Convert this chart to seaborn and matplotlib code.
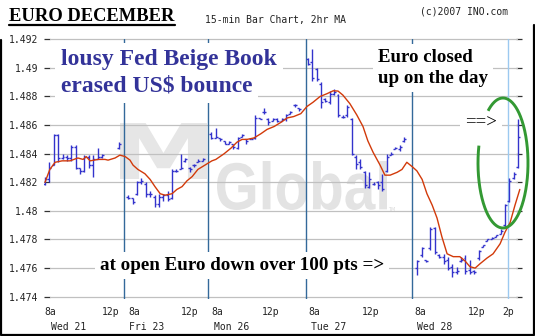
import matplotlib
matplotlib.use("Agg")
import matplotlib.pyplot as plt
import numpy as np
import pandas as pd
import seaborn as sns
from matplotlib.lines import Line2D
from matplotlib.patches import PathPatch
from matplotlib.textpath import TextPath
from matplotlib.font_manager import FontProperties
from matplotlib.transforms import Affine2D, IdentityTransform

# ---------------- data ----------------
# bar slot index (15-min bars, sessions separated by blue lines)
bar_slot = ([0, 1, 2, 3, 4, 5, 6, 7, 8, 9, 10, 11, 12, 13, 17] +      # Wed 21
            list(range(19, 37)) +                                      # Fri 23
            list(range(38, 59)) +                                      # Mon 26
            list(range(60, 83)) +                                      # Tue 27
            list(range(85, 109)))                                      # Wed 28

bar_high = [1.4824, 1.4834, 1.4854, 1.4854, 1.4840, 1.4839, 1.4846, 1.4846, 1.4830, 1.4839, 1.4839, 1.4839, 1.4844, 1.4840, 1.4848,
            1.4811, 1.4809, 1.4821, 1.4823, 1.4820, 1.4814, 1.4811, 1.4812, 1.4812, 1.4814, 1.4829, 1.4829, 1.4840, 1.4837, 1.4831, 1.4833, 1.4836, 1.4837,
            1.4855, 1.4858, 1.4851, 1.4849, 1.4849, 1.4847, 1.4852, 1.4854, 1.4850, 1.4851, 1.4867, 1.4865, 1.4872, 1.4865, 1.4865, 1.4865, 1.4865, 1.4868, 1.4870, 1.4875, 1.4872,
            1.4907, 1.4913, 1.4900, 1.4890, 1.4879, 1.4884, 1.4885, 1.4882, 1.4867, 1.4874, 1.4865, 1.4839, 1.4836, 1.4828, 1.4827, 1.4820, 1.4821, 1.4826, 1.4840, 1.4841, 1.4845, 1.4846, 1.4852,
            1.4766, 1.4775, 1.4766, 1.4789, 1.4789, 1.4770, 1.4770, 1.4768, 1.4763, 1.4761, 1.4768, 1.4769, 1.4766, 1.4759, 1.4773, 1.4776, 1.4780, 1.4782, 1.4783, 1.4787, 1.4805, 1.4823, 1.4827, 1.4864]

bar_low = [1.4818, 1.4820, 1.4832, 1.4834, 1.4836, 1.4835, 1.4835, 1.4829, 1.4826, 1.4827, 1.4830, 1.4824, 1.4836, 1.4837, 1.4843,
           1.4808, 1.4805, 1.4811, 1.4819, 1.4810, 1.4810, 1.4803, 1.4803, 1.4807, 1.4807, 1.4808, 1.4827, 1.4829, 1.4834, 1.4827, 1.4831, 1.4834, 1.4835,
           1.4850, 1.4851, 1.4849, 1.4847, 1.4847, 1.4843, 1.4843, 1.4852, 1.4847, 1.4850, 1.4850, 1.4864, 1.4868, 1.4860, 1.4863, 1.4862, 1.4863, 1.4863, 1.4868, 1.4873, 1.4870,
           1.4902, 1.4891, 1.4891, 1.4872, 1.4876, 1.4875, 1.4881, 1.4866, 1.4865, 1.4866, 1.4839, 1.4829, 1.4829, 1.4816, 1.4816, 1.4818, 1.4815, 1.4814, 1.4827, 1.4839, 1.4843, 1.4842, 1.4848,
           1.4755, 1.4768, 1.4764, 1.4773, 1.4770, 1.4767, 1.4763, 1.4759, 1.4754, 1.4756, 1.4764, 1.4756, 1.4756, 1.4756, 1.4766, 1.4775, 1.4779, 1.4780, 1.4782, 1.4784, 1.4789, 1.4806, 1.4822, 1.4830]

bar_open = [1.4819, 1.4822, 1.4832, 1.4853, 1.4837, 1.4838, 1.4837, 1.4845, 1.4830, 1.4828, 1.4838, 1.4832, 1.4836, 1.4838, 1.4844,
            1.4810, 1.4809, 1.4812, 1.4820, 1.4819, 1.4812, 1.4810, 1.4805, 1.4810, 1.4811, 1.4809, 1.4828, 1.4829, 1.4835, 1.4830, 1.4832, 1.4834, 1.4835,
            1.4854, 1.4851, 1.4851, 1.4849, 1.4847, 1.4847, 1.4844, 1.4852, 1.4850, 1.4850, 1.4851, 1.4865, 1.4869, 1.4864, 1.4863, 1.4864, 1.4863, 1.4864, 1.4868, 1.4874, 1.4872,
            1.4906, 1.4904, 1.4899, 1.4889, 1.4878, 1.4876, 1.4882, 1.4881, 1.4866, 1.4867, 1.4864, 1.4838, 1.4834, 1.4827, 1.4817, 1.4819, 1.4820, 1.4820, 1.4828, 1.4839, 1.4843, 1.4843, 1.4849,
            1.4760, 1.4769, 1.4766, 1.4774, 1.4788, 1.4769, 1.4768, 1.4766, 1.4761, 1.4757, 1.4765, 1.4767, 1.4759, 1.4758, 1.4767, 1.4775, 1.4779, 1.4780, 1.4782, 1.4784, 1.4790, 1.4807, 1.4823, 1.4831]

bar_close = [1.4822, 1.4830, 1.4853, 1.4837, 1.4838, 1.4837, 1.4845, 1.4830, 1.4828, 1.4838, 1.4832, 1.4836, 1.4838, 1.4839, 1.4847,
             1.4809, 1.4806, 1.4820, 1.4821, 1.4812, 1.4812, 1.4805, 1.4810, 1.4811, 1.4808, 1.4828, 1.4828, 1.4830, 1.4836, 1.4829, 1.4832, 1.4835, 1.4836,
             1.4851, 1.4852, 1.4850, 1.4847, 1.4848, 1.4845, 1.4851, 1.4853, 1.4849, 1.4850, 1.4865, 1.4864, 1.4869, 1.4862, 1.4864, 1.4863, 1.4864, 1.4867, 1.4869, 1.4874, 1.4871,
             1.4903, 1.4893, 1.4892, 1.4876, 1.4877, 1.4882, 1.4883, 1.4867, 1.4866, 1.4873, 1.4840, 1.4833, 1.4831, 1.4818, 1.4822, 1.4819, 1.4818, 1.4815, 1.4838, 1.4840, 1.4844, 1.4845, 1.4850,
             1.4765, 1.4774, 1.4765, 1.4787, 1.4771, 1.4768, 1.4765, 1.4760, 1.4757, 1.4758, 1.4766, 1.4758, 1.4757, 1.4757, 1.4772, 1.4776, 1.4780, 1.4781, 1.4783, 1.4786, 1.4804, 1.4821, 1.4826, 1.4852]

# 2hr moving average
ma_x = [0, 1.1, 2.3, 3.9, 5.7, 7.5, 8.7, 9.4, 10.3, 12.1, 13.7, 14.4, 16.0, 17.1, 18.3, 19.4, 20.1, 21.2, 22.8, 24.0,
        25.1, 26.3, 27.4, 29.0, 30.1, 31.3, 32.4, 33.6, 34.9, 36.5, 38.1, 39.0, 40.9, 42.5, 43.8, 45.0, 46.1, 47.7, 49.3, 50.7,
        52.3, 53.9, 55.3, 56.8, 58.4, 59.8, 61.2, 62.8, 64.4, 65.8, 66.9, 68.0, 69.6, 71.2, 72.6, 73.7, 74.9, 76.5, 77.6, 78.8,
        80.4, 81.5, 82.6, 83.8, 84.9, 86.1, 87.2, 88.4, 89.5, 90.6, 91.8, 93.2, 94.7, 95.9, 97.0, 98.2, 99.3, 100.9, 102.3, 103.9,
        105.0, 106.2, 107.3, 108.4]
ma_val = [1.4820, 1.4829, 1.4834, 1.4835, 1.4835, 1.4837, 1.4836, 1.4838, 1.4835, 1.4836, 1.4836, 1.48355, 1.4837, 1.4839, 1.4838, 1.48355, 1.4832, 1.4829, 1.4826, 1.4822,
          1.4817, 1.4812, 1.4811, 1.4812, 1.4815, 1.4817, 1.4821, 1.4824, 1.4829, 1.4832, 1.4835, 1.4836, 1.4840, 1.4844, 1.4848, 1.4850, 1.4850, 1.4851, 1.4854, 1.4857,
          1.4859, 1.4862, 1.4865, 1.4866, 1.4868, 1.4873, 1.4876, 1.4880, 1.4882, 1.4884, 1.48838, 1.4881, 1.4875, 1.4867, 1.4859, 1.4849, 1.4841, 1.4832, 1.4825, 1.4825,
          1.4827, 1.4829, 1.4834, 1.4831, 1.4828, 1.4822, 1.4812, 1.4804, 1.4795, 1.4782, 1.4770, 1.4768, 1.4768, 1.4765, 1.4761, 1.4760, 1.4763, 1.4767, 1.4770, 1.4777,
          1.4785, 1.4792, 1.4804, 1.4815]

session_breaks = [18.0, 37.2, 59.5, 83.7]
last_marker = 105.7

hour_tick_pos = [1.3, 14.9, 20.3, 33.1, 39.4, 51.6, 61.4, 74.4, 85.6, 98.6, 105.7]
hour_tick_labels = ["8a", "12p", "8a", "12p", "8a", "12p", "8a", "12p", "8a", "12p", "2p"]
day_label_pos = [5.4, 23.3, 42.6, 64.8, 88.9]
day_labels = ["Wed 21", "Fri 23", "Mon 26", "Tue 27", "Wed 28"]

y_ticks = [1.474, 1.476, 1.478, 1.480, 1.482, 1.484, 1.486, 1.488, 1.490, 1.492]
y_tick_labels = ["1.474", "1.476", "1.478", "1.48", "1.482", "1.484", "1.486", "1.488", "1.49", "1.492"]

title_text = "EURO DECEMBER"
subtitle_text = "15-min Bar Chart, 2hr MA"
copyright_text = "(c)2007 INO.com"

# ---------------- figure ----------------
W, H = 535, 336
sns.set_theme(style="white")
plt.rcParams["font.family"] = ["DejaVu Sans"]

fig = plt.figure(figsize=(W / 100, H / 100), dpi=100)
fig.patch.set_facecolor("white")


def P(x, y):
    return (x / W, 1 - y / H)


ax_l, ax_r, ax_t, ax_b = 44, 522, 39.3, 299
ax = fig.add_axes([ax_l / W, 1 - ax_b / H, (ax_r - ax_l) / W, (ax_b - ax_t) / H])
ax.set_facecolor("white")
ax.set_xlim(-0.23, 108.9)
ax.set_ylim(1.473839, 1.492)
for s in ax.spines.values():
    s.set_visible(False)


# watermark logo, text paths fitted into a pixel box
def logo_word(word, family, x0, x1, ytop, ybot, color):
    tp = TextPath((0, 0), word, size=10, prop=FontProperties(family=family, weight="bold"))
    bb = tp.get_extents()
    tr = (Affine2D().translate(-bb.x0, -bb.y0)
          .scale((x1 - x0) / bb.width, (ybot - ytop) / bb.height)
          .translate(x0, H - ybot))
    patch = PathPatch(tr.transform_path(tp), fc=color, ec="none",
                      transform=IdentityTransform(), zorder=0.2, clip_on=False)
    ax.add_artist(patch)


logo_word("M", "DejaVu Sans", 120, 207, 123, 179, "#e6e6e6")
logo_word("Global", "Liberation Sans", 217, 387, 161, 210, "#e3e3e3")
ax.text(*P(388, 211), "TM", transform=fig.transFigure, fontsize=3.5,
        color="#d8d8d8", ha="left", va="baseline", zorder=0.2)

# gridlines
gx0 = (50 - ax_l) / (ax_r - ax_l)
gx1 = (517 - ax_l) / (ax_r - ax_l)
for yv in y_ticks:
    ax.axhline(yv, xmin=gx0, xmax=gx1, color="#c0c0c0", lw=0.9, zorder=1, clip_on=False)

# session separators
for xb in session_breaks:
    ax.axvline(xb, color="#33699a", lw=1.0, zorder=1.5)
ax.axvline(last_marker, color="#9cc9f0", lw=1.0, zorder=1.5)

# bars
df = pd.DataFrame({"slot": bar_slot, "open": bar_open, "high": bar_high,
                   "low": bar_low, "close": bar_close})
bar_col = "#3333cc"
ax.vlines(df["slot"], df["low"], df["high"], color=bar_col, lw=1.0, zorder=3)
ax.hlines(df["close"], df["slot"], df["slot"] + 0.45, color=bar_col, lw=1.0, zorder=3)
ax.hlines(df["open"], df["slot"] - 0.45, df["slot"], color=bar_col, lw=1.0, zorder=3)

# moving average
ma_df = pd.DataFrame({"x": ma_x, "ma": ma_val})
sns.lineplot(data=ma_df, x="x", y="ma", ax=ax, color="#d23a0a", lw=1.0,
             estimator=None, sort=False, zorder=3.2)
ax.set_xlabel("")
ax.set_ylabel("")

# ticks
ax.set_yticks(y_ticks)
ax.set_yticklabels(y_tick_labels)
ax.set_xticks(hour_tick_pos)
ax.set_xticklabels(hour_tick_labels)
ax.set_xticks(day_label_pos, minor=True)
ax.set_xticklabels(day_labels, minor=True)
ax.tick_params(axis="y", which="major", left=True, right=True, labelright=False,
               direction="in", length=4.3, width=0.9, color="#333333",
               labelsize=7, labelcolor="#222222", pad=4.3)
ax.tick_params(axis="x", which="major", bottom=True, length=0, labelsize=7,
               labelcolor="#222222", pad=6.0)
ax.tick_params(axis="x", which="minor", bottom=True, length=0, labelsize=7,
               labelcolor="#222222", pad=16.5)
for lab in ax.get_xticklabels(which="both") + ax.get_yticklabels():
    lab.set_family("DejaVu Sans Mono")

# annotation boxes / texts
box = dict(boxstyle="square,pad=0.25", fc="white", ec="none")
serif = "Liberation Serif"
ax.text(*P(61, 65), "lousy Fed Beige Book", transform=fig.transFigure, fontsize=17,
        fontweight="bold", family=serif, color="#333399", ha="left", va="baseline",
        bbox=box, zorder=2.5)
ax.text(*P(61, 91.7), "erased US$ bounce", transform=fig.transFigure, fontsize=17,
        fontweight="bold", family=serif, color="#333399", ha="left", va="baseline",
        bbox=box, zorder=2.5)
ax.text(*P(378, 61.7), "Euro closed", transform=fig.transFigure, fontsize=13.6,
        fontweight="bold", family=serif, color="black", ha="left", va="baseline",
        bbox=box, zorder=2.5)
ax.text(*P(378, 83.3), "up on the day", transform=fig.transFigure, fontsize=13.6,
        fontweight="bold", family=serif, color="black", ha="left", va="baseline",
        bbox=box, zorder=2.5)
ax.text(*P(100, 270), "at open Euro down over 100 pts =>", transform=fig.transFigure,
        fontsize=13.7, fontweight="bold", family=serif, color="black", ha="left",
        va="baseline", bbox=box, zorder=2.5)
ax.text(*P(465, 128), "==>", transform=fig.transFigure, fontsize=13.5,
        family=serif, color="black", ha="left", va="baseline", bbox=box, zorder=2.5)

# green ellipse (open at the upper left)
t = np.deg2rad(np.linspace(164.5, 486.6, 300))
ex = 503 + 25 * np.cos(t)
ey = 163 - 65 * np.sin(t)
fig.add_artist(Line2D(ex / W, 1 - ey / H, transform=fig.transFigure, color="#339933",
                      lw=2.1, solid_capstyle="butt"))

# header
fig.text(*P(9, 20.7), title_text, fontsize=13.3, fontweight="bold", family=serif,
         color="black", ha="left", va="baseline")
fig.add_artist(Line2D([9 / W, 175 / W], [1 - 25 / H, 1 - 25 / H], transform=fig.transFigure,
                      color="black", lw=1.6))
fig.text(*P(205, 23), subtitle_text, fontsize=7, family="DejaVu Sans Mono",
         color="#222222", ha="left", va="baseline")
fig.text(*P(508, 15), copyright_text, fontsize=7, family="DejaVu Sans Mono",
         color="#222222", ha="right", va="baseline")

# frame: left, bottom and right edges of the image
fig.add_artist(Line2D([0.5 / W, 0.5 / W, 1 - 1 / W, 1 - 1 / W],
                      [1 - 40 / H, 1.5 / H, 1.5 / H, 1 - 25 / H],
                      transform=fig.transFigure, color="black", lw=1.6))

fig.savefig("out.png", dpi=100, facecolor="white")
